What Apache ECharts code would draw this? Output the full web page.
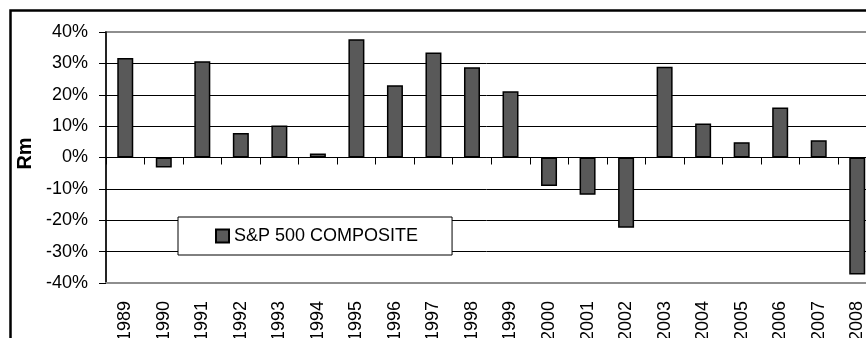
<!DOCTYPE html>
<html>
<head>
<meta charset="utf-8">
<script src="https://cdn.jsdelivr.net/npm/echarts@6/dist/echarts.min.js"></script>
<style>
  html, body { margin: 0; padding: 0; background: #fff; }
  #chart { width: 866px; height: 338px; }
</style>
</head>
<body>
<div id="chart"></div>
<script>
// Annual market return (Rm) of the S&P 500 Composite, in percent
const years = ['1989', '1990', '1991', '1992', '1993', '1994', '1995', '1996', '1997', '1998',
               '1999', '2000', '2001', '2002', '2003', '2004', '2005', '2006', '2007', '2008'];
const returns = [31.7, -3.2, 30.7, 7.8, 10.2, 1.3, 37.7, 23.0, 33.5, 28.8,
                 21.1, -9.1, -11.9, -22.4, 28.9, 10.8, 4.9, 15.9, 5.5, -37.3];
const seriesName = 'S&P 500 COMPOSITE';
const axisTitle = 'Rm';
const yMin = -40, yMax = 40, yStep = 10;

const FONT = '"Liberation Sans", Arial, sans-serif';
const GRAY = '#8e8e8e';

const chart = echarts.init(document.getElementById('chart'), null, { renderer: 'canvas' });

// grid lines: outer ones (plot frame) gray, inner ones black
const splitColors = [];
for (let v = yMin; v <= yMax; v += yStep) {
  splitColors.push(v === yMin || v === yMax ? GRAY : '#000');
}

chart.setOption({
  animation: false,
  backgroundColor: '#fff',
  textStyle: { fontFamily: FONT },
  graphic: [{
    type: 'rect',
    z: 100,
    shape: { x: 10.5, y: 10.5, width: 1000, height: 1000 },
    style: { fill: 'none', stroke: '#000', lineWidth: 2.5 }
  }],
  grid: {
    left: 106, top: 32, right: -10.5, bottom: 55,
    containLabel: false,
    outerBoundsMode: 'none',
    show: true, borderColor: GRAY, borderWidth: 2
  },
  legend: {
    data: [seriesName],
    left: 178, top: 217,
    padding: [10, 34, 10, 37],
    icon: 'rect',
    itemWidth: 13, itemHeight: 13,
    backgroundColor: '#fff',
    borderColor: '#000', borderWidth: 1,
    textStyle: { fontSize: 18, color: '#000', fontFamily: FONT }
  },
  xAxis: [{
    type: 'category',
    data: years,
    position: 'bottom',
    axisLine: { onZero: false, lineStyle: { color: GRAY, width: 2 } },
    axisTick: { show: false },
    axisLabel: { rotate: 90, margin: 18, interval: 0, fontSize: 18, color: '#000', fontFamily: FONT },
    splitLine: { show: false }
  }, {
    type: 'category',
    data: years,
    position: 'top',
    axisLine: { onZero: true, onZeroAxisIndex: 0, lineStyle: { color: '#000', width: 1 } },
    axisTick: { show: true, inside: true, length: 7, lineStyle: { color: '#000', width: 1 } },
    axisLabel: { show: false },
    splitLine: { show: false }
  }],
  yAxis: {
    type: 'value',
    min: yMin, max: yMax, interval: yStep,
    name: axisTitle,
    nameLocation: 'middle',
    nameGap: 69,
    nameTextStyle: { fontSize: 20, fontWeight: 'bold', color: '#000', fontFamily: FONT, padding: [0, 0, 0, 8] },
    axisLine: { show: true, lineStyle: { color: '#000', width: 1.5 } },
    axisTick: { show: true, length: 7, lineStyle: { color: '#000', width: 1 } },
    axisLabel: { formatter: '{value}%', margin: 18, fontSize: 18, color: '#000', fontFamily: FONT },
    splitLine: { show: true, lineStyle: { color: splitColors, width: 1 } }
  },
  series: [{
    name: seriesName,
    type: 'bar',
    xAxisIndex: 0,
    data: returns,
    barWidth: 16,
    itemStyle: { color: '#595959', borderColor: '#000', borderWidth: 1.5 }
  }]
});
</script>
</body>
</html>
